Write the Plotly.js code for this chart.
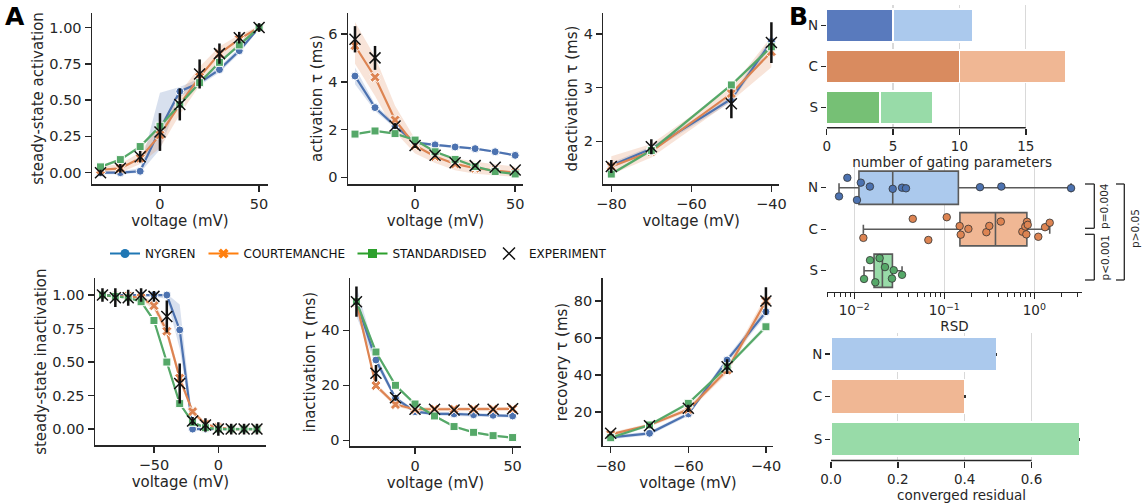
<!DOCTYPE html>
<html><head><meta charset="utf-8">
<script src="https://cdn.plot.ly/plotly-3.0.1.min.js"></script>
<style>html,body{margin:0;padding:0;background:#fff}#chart{width:1146px;height:503px}</style>
</head><body><div id="chart"></div>
<script>
// ================= DATA =================
const modelNames = ['NYGREN','COURTEMANCHE','STANDARDISED'];
const expName = 'EXPERIMENT';
const modelShort = ['N','C','S'];

const vAct = [-30,-20,-10,0,10,20,30,40,50];
const vDeact = [-80,-70,-50,-40];
const vInact = [-90,-80,-70,-60,-50,-40,-30,-20,-10,0,10,20,30];
const vRec = [-80,-70,-60,-50,-40];

// steady-state activation
const ssActN    = [0.00,0.00,0.01,0.30,0.56,0.62,0.71,0.84,1.00];
const ssActN_lo = [-0.01,-0.01,0.00,0.16,0.52,0.60,0.69,0.82,0.99];
const ssActN_hi = [0.01,0.01,0.03,0.55,0.59,0.65,0.73,0.86,1.01];
const ssActC    = [0.02,0.03,0.10,0.26,0.47,0.66,0.82,0.92,1.00];
const ssActC_lo = [0.00,0.00,0.06,0.17,0.40,0.60,0.77,0.89,0.99];
const ssActC_hi = [0.04,0.06,0.14,0.33,0.55,0.73,0.87,0.95,1.01];
const ssActS    = [0.04,0.09,0.18,0.32,0.47,0.62,0.76,0.88,1.00];
const ssActS_lo = [0.03,0.08,0.17,0.31,0.46,0.61,0.75,0.87,0.99];
const ssActS_hi = [0.05,0.10,0.19,0.33,0.48,0.63,0.77,0.89,1.01];
const ssActExp    = [0.00,0.03,0.11,0.28,0.47,0.68,0.82,0.93,1.00];
const ssActExpErr = [0.02,0.03,0.04,0.13,0.11,0.10,0.07,0.04,0.03];

// activation tau (ms)
const tauActN    = [4.24,2.92,2.15,1.45,1.36,1.27,1.20,1.07,0.92];
const tauActN_lo = [3.90,2.78,2.05,1.38,1.30,1.22,1.15,1.02,0.87];
const tauActN_hi = [4.60,3.06,2.25,1.52,1.42,1.32,1.25,1.12,0.97];
const tauActC    = [5.51,4.19,2.40,1.33,0.87,0.56,0.38,0.28,0.20];
const tauActC_lo = [4.75,3.40,1.90,1.00,0.60,0.30,0.15,0.08,0.02];
const tauActC_hi = [6.50,5.05,3.00,1.60,1.10,0.80,0.65,0.55,0.45];
const tauActS    = [1.81,1.94,1.83,1.56,1.07,0.75,0.45,0.24,0.14];
const tauActS_lo = [1.77,1.90,1.79,1.52,1.03,0.71,0.41,0.20,0.10];
const tauActS_hi = [1.85,1.98,1.87,1.60,1.11,0.79,0.49,0.28,0.18];
const tauActExp    = [5.78,5.00,2.15,1.33,0.92,0.61,0.49,0.42,0.31];
const tauActExpErr = [0.55,0.50,0.12,0.10,0.08,0.06,0.05,0.05,0.04];

// deactivation tau (ms)
const tauDeactN    = [1.55,1.86,2.79,3.86];
const tauDeactN_lo = [1.50,1.81,2.73,3.78];
const tauDeactN_hi = [1.60,1.91,2.85,3.94];
const tauDeactC    = [1.53,1.81,2.89,3.67];
const tauDeactC_lo = [1.38,1.70,2.75,3.38];
const tauDeactC_hi = [1.72,1.95,3.00,3.95];
const tauDeactS    = [1.39,1.83,3.05,3.76];
const tauDeactS_lo = [1.36,1.80,3.02,3.72];
const tauDeactS_hi = [1.42,1.86,3.08,3.80];
const tauDeactExp    = [1.53,1.90,2.70,3.84];
const tauDeactExpErr = [0.12,0.14,0.27,0.38];

// steady-state inactivation
const ssInactN    = [1.00,1.00,1.00,1.00,1.00,1.00,0.74,0.00,0.00,0.00,0.00,0.00,0.00];
const ssInactN_lo = [1.00,1.00,1.00,0.99,0.99,0.97,0.60,0.00,0.00,0.00,0.00,0.00,0.00];
const ssInactN_hi = [1.00,1.00,1.00,1.00,1.01,1.01,0.93,0.06,0.01,0.01,0.01,0.01,0.01];
const ssInactC    = [1.00,0.99,0.99,0.98,0.92,0.73,0.38,0.13,0.035,0.01,0.00,0.00,0.00];
const ssInactC_lo = [0.99,0.98,0.98,0.96,0.89,0.69,0.35,0.11,0.02,0.00,0.00,0.00,0.00];
const ssInactC_hi = [1.01,1.00,1.00,1.00,0.95,0.77,0.41,0.15,0.05,0.02,0.01,0.01,0.01];
const ssInactS    = [1.00,0.99,0.98,0.95,0.81,0.50,0.19,0.05,0.01,0.00,0.00,0.00,0.00];
const ssInactS_lo = [0.99,0.98,0.97,0.94,0.80,0.49,0.18,0.04,0.00,0.00,0.00,0.00,0.00];
const ssInactS_hi = [1.01,1.00,0.99,0.96,0.82,0.51,0.20,0.06,0.02,0.01,0.01,0.01,0.01];
const ssInactExp    = [1.00,0.98,0.98,1.00,0.99,0.84,0.34,0.06,0.03,0.00,0.00,0.00,0.00];
const ssInactExpErr = [0.05,0.07,0.06,0.05,0.04,0.12,0.15,0.03,0.05,0.05,0.04,0.04,0.04];

// inactivation tau (ms)
const tauInactN    = [50.4,29.2,15.3,10.4,9.6,9.6,9.3,9.1,8.85];
const tauInactN_lo = [45.0,27.5,14.5,9.8,9.0,9.0,8.7,8.5,8.3];
const tauInactN_hi = [56.0,31.0,16.1,11.0,10.2,10.2,9.9,9.7,9.4];
const tauInactC    = [50.2,19.9,13.0,11.3,11.3,11.3,11.3,11.3,11.4];
const tauInactC_lo = [48.5,18.9,12.3,10.6,10.6,10.6,10.6,10.6,10.7];
const tauInactC_hi = [51.9,20.9,13.7,12.0,12.0,12.0,12.0,12.0,12.1];
const tauInactS    = [50.4,32.1,20.0,13.2,8.85,5.0,2.9,1.7,1.0];
const tauInactS_lo = [49.4,31.4,19.4,12.7,8.4,4.6,2.5,1.3,0.6];
const tauInactS_hi = [51.4,32.8,20.6,13.7,9.3,5.4,3.3,2.1,1.4];
const tauInactExp    = [50.4,24.4,15.5,11.3,11.3,11.0,11.3,11.3,11.5];
const tauInactExpErr = [5.5,3.0,1.0,0.5,0.4,0.4,0.4,0.4,0.4];

// recovery tau (ms)
const tauRecN    = [6.3,8.5,19.0,48.1,74.2];
const tauRecN_lo = [5.3,7.5,17.8,46.5,72.0];
const tauRecN_hi = [7.3,9.5,20.2,49.7,76.4];
const tauRecC    = [7.9,13.0,21.4,42.7,80.0];
const tauRecC_lo = [6.9,12.0,20.0,40.7,77.0];
const tauRecC_hi = [8.9,14.0,22.8,44.7,83.0];
const tauRecS    = [6.1,13.0,24.7,44.5,66.1];
const tauRecS_lo = [5.3,12.2,23.9,43.5,64.8];
const tauRecS_hi = [6.9,13.8,25.5,45.5,67.4];
const tauRecExp    = [8.5,12.6,22.0,44.5,80.0];
const tauRecExpErr = [1.0,1.0,2.0,4.0,7.5];

// panel B
const gatingParamsA = [5,10,4];
const gatingParamsB = [6,8,4];
const rsdN = [0.00676,0.00836,0.0107,0.0118,0.0149,0.0267,0.0339,0.0375,0.249,0.430,2.56];
const rsdC = [0.0126,0.0446,0.0664,0.1064,0.148,0.152,0.185,0.293,0.316,0.424,0.736,0.794,0.815,0.830,0.845,1.107,1.315,1.483];
const rsdS = [0.01282,0.01494,0.0171,0.0191,0.0219,0.0262,0.0274,0.0339];
const rsdTickVals = [0.01,0.1,1];
const rsdTickText = ['10<sup>−2</sup>','10<sup>−1</sup>','10<sup>0</sup>'];
const residual = [0.496,0.401,0.743];
const residualErr = [0.002,0.002,0.002];
const pLabels = ['p=0.004','p<0.001','p>0.05'];

// ================= STYLE =================
const W=1146, H=503;
const FONT='DejaVu Sans';
const INK='#262626';
const COL={N:'#4c72b0',C:'#dd8452',S:'#55a868'};
const BAND={N:'rgba(76,114,176,0.22)',C:'rgba(221,132,82,0.22)',S:'rgba(85,168,104,0.22)'};
const SYM={N:'circle',C:'x',S:'square'};
const LEGCOL={N:'#1f77b4',C:'#ff7f0e',S:'#2ca02c'};
const DARK=['#597abd','#d98b5f','#76c075'];
const LIGHT=['#abc9ed','#f0b794','#98dba8'];
const dX=(a,b)=>[a/W,b/W];
const dY=(t,b)=>[1-b/H,1-t/H];
const px=(x)=>x/W, py=(y)=>1-y/H;

const panels=[
 {id:'',  v:vAct,   N:[ssActN,ssActN_lo,ssActN_hi], C:[ssActC,ssActC_lo,ssActC_hi], S:[ssActS,ssActS_lo,ssActS_hi], exp:ssActExp, err:ssActExpErr},
 {id:'2', v:vAct,   N:[tauActN,tauActN_lo,tauActN_hi], C:[tauActC,tauActC_lo,tauActC_hi], S:[tauActS,tauActS_lo,tauActS_hi], exp:tauActExp, err:tauActExpErr},
 {id:'3', v:vDeact, N:[tauDeactN,tauDeactN_lo,tauDeactN_hi], C:[tauDeactC,tauDeactC_lo,tauDeactC_hi], S:[tauDeactS,tauDeactS_lo,tauDeactS_hi], exp:tauDeactExp, err:tauDeactExpErr},
 {id:'4', v:vInact, N:[ssInactN,ssInactN_lo,ssInactN_hi], C:[ssInactC,ssInactC_lo,ssInactC_hi], S:[ssInactS,ssInactS_lo,ssInactS_hi], exp:ssInactExp, err:ssInactExpErr},
 {id:'5', v:vAct,   N:[tauInactN,tauInactN_lo,tauInactN_hi], C:[tauInactC,tauInactC_lo,tauInactC_hi], S:[tauInactS,tauInactS_lo,tauInactS_hi], exp:tauInactExp, err:tauInactExpErr},
 {id:'6', v:vRec,   N:[tauRecN,tauRecN_lo,tauRecN_hi], C:[tauRecC,tauRecC_lo,tauRecC_hi], S:[tauRecS,tauRecS_lo,tauRecS_hi], exp:tauRecExp, err:tauRecExpErr}
];

const traces=[];
panels.forEach(p=>{
  const xa='x'+p.id, ya='y'+p.id;
  modelShort.forEach(m=>{
    const [v,lo,hi]=p[m];
    traces.push({type:'scatter',mode:'lines',x:p.v.concat(p.v.slice().reverse()),y:hi.concat(lo.slice().reverse()),
      fill:'toself',fillcolor:BAND[m],line:{width:0},hoverinfo:'skip',showlegend:false,xaxis:xa,yaxis:ya});
  });
  modelShort.forEach((m,i)=>{
    traces.push({type:'scatter',mode:'lines+markers',name:modelNames[i],x:p.v,y:p[m][0],
      line:{color:COL[m],width:2.2},marker:{symbol:SYM[m],size:m==='C'?9:8,color:COL[m],line:{color:'#fff',width:1}},
      showlegend:false,xaxis:xa,yaxis:ya});
  });
  traces.push({type:'scatter',mode:'markers',name:expName,x:p.v,y:p.exp,
    error_y:{type:'data',array:p.err,visible:true,color:'#111',thickness:2.5,width:0},
    marker:{symbol:'x-thin-open',size:11,color:'#111',line:{color:'#111',width:1.5}},
    showlegend:false,xaxis:xa,yaxis:ya});
});

// legend-only entries
const legIds=['legend','legend2','legend3','legend4'];
modelShort.forEach((m,i)=>{
  traces.push({type:'scatter',mode:'lines+markers',name:modelNames[i],x:[null],y:[null],legend:legIds[i],
    line:{color:LEGCOL[m],width:2},marker:{symbol:SYM[m],size:9,color:LEGCOL[m]},showlegend:true});
});
traces.push({type:'scatter',mode:'markers',name:expName,x:[null],y:[null],legend:'legend4',
  marker:{symbol:'x-thin-open',size:12,color:'#111',line:{color:'#111',width:1.5}},showlegend:true});

// Panel B top: stacked bars
const cats=[0,1,2];
traces.push({type:'bar',orientation:'h',x:gatingParamsA,y:cats,width:0.8,marker:{color:DARK,line:{color:'#fff',width:1.5}},xaxis:'x7',yaxis:'y7',showlegend:false});
traces.push({type:'bar',orientation:'h',x:gatingParamsB,y:cats,width:0.8,marker:{color:LIGHT,line:{color:'#fff',width:1.5}},xaxis:'x7',yaxis:'y7',showlegend:false});

// Panel B middle: box + strip
function boxStats(vals){
  const s=vals.slice().sort((a,b)=>a-b);
  const q=(p)=>{const i=p*(s.length-1),lo=Math.floor(i),hi=Math.ceil(i);return s[lo]+(s[hi]-s[lo])*(i-lo);};
  return {q1:q(0.25),median:q(0.5),q3:q(0.75),lowerfence:s[0],upperfence:s[s.length-1]};
}
[rsdN,rsdC,rsdS].forEach((vals,i)=>{
  const st=boxStats(vals);
  traces.push({type:'box',orientation:'h',y:[i],q1:[st.q1],median:[st.median],q3:[st.q3],lowerfence:[st.lowerfence],upperfence:[st.upperfence],
    width:0.8,whiskerwidth:0.27,fillcolor:LIGHT[i],line:{color:'#5a5a5a',width:1.6},boxpoints:false,xaxis:'x8',yaxis:'y8',showlegend:false,hoverinfo:'skip'});
});
[rsdN,rsdC,rsdS].forEach((vals,i)=>{
  traces.push({type:'box',orientation:'h',x:vals,y0:i,width:0.8,boxpoints:'all',jitter:1,pointpos:0,
    fillcolor:'rgba(0,0,0,0)',line:{color:'rgba(0,0,0,0)',width:0},
    marker:{color:COL[modelShort[i]],size:7.5,line:{color:'#333',width:0.8}},xaxis:'x8',yaxis:'y8',showlegend:false});
});

// Panel B bottom
traces.push({type:'bar',orientation:'h',x:residual,y:cats,width:0.8,marker:{color:LIGHT,line:{color:'#fff',width:1.5}},
  error_x:{type:'data',array:residualErr,visible:true,color:'#333',thickness:3,width:0},xaxis:'x9',yaxis:'y9',showlegend:false});

// ================= LAYOUT =================
function ax(o){
  const base={showline:true,linecolor:INK,linewidth:1.5,ticks:'outside',ticklen:6,tickwidth:1.5,tickcolor:INK,
    showgrid:false,zeroline:false,autorange:false,tickfont:{family:FONT,size:14.5,color:INK}};
  const r=Object.assign(base,o);
  if(o.titleText!==undefined){r.title={text:o.titleText,font:{family:FONT,size:15,color:INK},standoff:o.standoff||2};delete r.titleText;delete r.standoff;}
  return r;
}
const vt='voltage (mV)';
const BT={family:FONT,size:13.5,color:INK};
const layout={
  width:W,height:H,margin:{l:0,r:0,t:0,b:0},paper_bgcolor:'#fff',plot_bgcolor:'rgba(0,0,0,0)',
  font:{family:FONT,color:INK},barmode:'stack',boxmode:'overlay',
  xaxis: ax({domain:dX(92,268),  range:[-34.3,54.5], dtick:50, anchor:'y',  titleText:vt, standoff:4}),
  yaxis: ax({domain:dY(13,184),  range:[-0.078,1.10], tickvals:[0,0.25,0.5,0.75,1], tickformat:'.2f', anchor:'x', titleText:'steady-state activation'}),
  xaxis2:ax({domain:dX(348,523), range:[-33.5,53.9], dtick:50, anchor:'y2', titleText:vt, standoff:4}),
  yaxis2:ax({domain:dY(13,184),  range:[-0.28,6.88], dtick:2, anchor:'x2', titleText:'activation τ (ms)'}),
  xaxis3:ax({domain:dX(603.3,779), range:[-82,-38.1], dtick:20, anchor:'y3', titleText:vt, standoff:4}),
  yaxis3:ax({domain:dY(13,184),  range:[1.205,4.39], dtick:1, anchor:'x3', titleText:'deactivation τ (ms)'}),
  xaxis4:ax({domain:dX(95,265.7), range:[-95.8,36.8], dtick:50, anchor:'y4', titleText:vt, standoff:2}),
  yaxis4:ax({domain:dY(278.3,445), range:[-0.119,1.125], tickvals:[0,0.25,0.5,0.75,1], tickformat:'.2f', anchor:'x4', titleText:'steady-state inactivation'}),
  xaxis5:ax({domain:dX(350,521), range:[-33.3,54.3], dtick:50, anchor:'y5', titleText:vt, standoff:2}),
  yaxis5:ax({domain:dY(278.3,446), range:[-2.07,58.9], dtick:20, anchor:'x5', titleText:'inactivation τ (ms)'}),
  xaxis6:ax({domain:dX(602.7,773.3), range:[-82.06,-38.1], dtick:20, anchor:'y6', titleText:vt, standoff:2}),
  yaxis6:ax({domain:dY(278.3,445.7), range:[1.8,92.3], dtick:20, anchor:'x6', titleText:'recovery τ (ms)'}),
  // panel B
  xaxis7:{domain:dX(826.7,1077.5),range:[0,18.9],autorange:false,dtick:5,anchor:'y7',showline:false,zeroline:false,showgrid:true,gridcolor:'#d9d9d9',gridwidth:1.2,
    ticks:'outside',ticklen:6,tickwidth:1.5,tickcolor:INK,tickfont:BT,
    title:{text:'number of gating parameters',font:BT,standoff:0}},
  yaxis7:{domain:dY(5,127.7),range:[2.5,-0.5],autorange:false,anchor:'x7',tickvals:cats,ticktext:['N','C','S'],showline:false,zeroline:false,showgrid:false,
    ticks:'outside',ticklen:5,tickwidth:1.3,tickcolor:INK,tickfont:BT},
  xaxis8:{domain:dX(826.7,1082.3),type:'log',range:[-2.307,0.533],autorange:false,tickvals:rsdTickVals,ticktext:rsdTickText,anchor:'y8',showline:true,linecolor:INK,linewidth:1.5,zeroline:false,
    showgrid:true,gridcolor:'#d9d9d9',gridwidth:1.2,ticks:'outside',ticklen:6,tickwidth:1.5,tickcolor:INK,tickfont:BT,
    minor:{ticks:'outside',ticklen:3.5,tickwidth:1.1,tickcolor:INK,dtick:'D1',showgrid:false},
    title:{text:'RSD',font:BT,standoff:0}},
  yaxis8:{domain:dY(167,291.5),range:[2.5,-0.5],autorange:false,anchor:'x8',tickvals:cats,ticktext:['N','C','S'],showline:false,zeroline:false,showgrid:false,
    ticks:'outside',ticklen:5,tickwidth:1.3,tickcolor:INK,tickfont:BT},
  xaxis9:{domain:dX(831,1092),range:[0,0.781],autorange:false,dtick:0.2,tickformat:'.1f',anchor:'y9',showline:false,zeroline:false,showgrid:true,gridcolor:'#d9d9d9',gridwidth:1.2,
    ticks:'outside',ticklen:6,tickwidth:1.5,tickcolor:INK,tickfont:BT,
    title:{text:'converged residual',font:BT,standoff:0}},
  yaxis9:{domain:dY(332.7,460.5),range:[2.5,-0.5],autorange:false,anchor:'x9',tickvals:cats,ticktext:['N','C','S'],showline:false,zeroline:false,showgrid:false,
    ticks:'outside',ticklen:5,tickwidth:1.3,tickcolor:INK,tickfont:BT},
  shapes:[
    {type:'line',xref:'x7',yref:'y7 domain',x0:0,x1:15,y0:0,y1:0,line:{color:INK,width:1.5}},
    {type:'line',xref:'x9',yref:'y9 domain',x0:0,x1:0.6,y0:0,y1:0,line:{color:INK,width:1.5}}
  ],
  annotations:[
    {text:'<b>A</b>',xref:'paper',yref:'paper',x:px(3),y:py(0),xanchor:'left',yanchor:'top',showarrow:false,font:{family:FONT,size:25,color:'#000'}},
    {text:'<b>B</b>',xref:'paper',yref:'paper',x:px(787),y:py(0),xanchor:'left',yanchor:'top',showarrow:false,font:{family:FONT,size:25,color:'#000'}},
    {text:pLabels[0],xref:'paper',yref:'paper',x:px(1104),y:py(206),xanchor:'center',yanchor:'middle',textangle:-90,showarrow:false,font:{family:FONT,size:10.5,color:INK}},
    {text:pLabels[1],xref:'paper',yref:'paper',x:px(1104),y:py(257.5),xanchor:'center',yanchor:'middle',textangle:-90,showarrow:false,font:{family:FONT,size:10.5,color:INK}},
    {text:pLabels[2],xref:'paper',yref:'paper',x:px(1135),y:py(229),xanchor:'center',yanchor:'middle',textangle:-90,showarrow:false,font:{family:FONT,size:10.5,color:INK}}
  ],
  showlegend:true
};
function bracket(xv,xt,y0,y1){
  return [
    {type:'line',xref:'paper',yref:'paper',x0:px(xv),x1:px(xv),y0:py(y0),y1:py(y1),line:{color:INK,width:1.3}},
    {type:'line',xref:'paper',yref:'paper',x0:px(xt),x1:px(xv),y0:py(y0),y1:py(y0),line:{color:INK,width:1.3}},
    {type:'line',xref:'paper',yref:'paper',x0:px(xt),x1:px(xv),y0:py(y1),y1:py(y1),line:{color:INK,width:1.3}}
  ];
}
layout.shapes=layout.shapes.concat(bracket(1094.3,1085,184,228.3),bracket(1094.3,1085,234.3,280),bracket(1124.3,1116,184,280));

const legBase={orientation:'h',xanchor:'left',yanchor:'middle',y:py(253.5),bgcolor:'rgba(0,0,0,0)',font:{family:FONT,size:12,color:'#111'},itemclick:false};
layout.legend =Object.assign({},legBase,{x:px(105)});
layout.legend2=Object.assign({},legBase,{x:px(203.5)});
layout.legend3=Object.assign({},legBase,{x:px(352.5)});
layout.legend4=Object.assign({},legBase,{x:px(489)});

Plotly.newPlot('chart',traces,layout,{staticPlot:true,displayModeBar:false});
</script>
</body></html>
